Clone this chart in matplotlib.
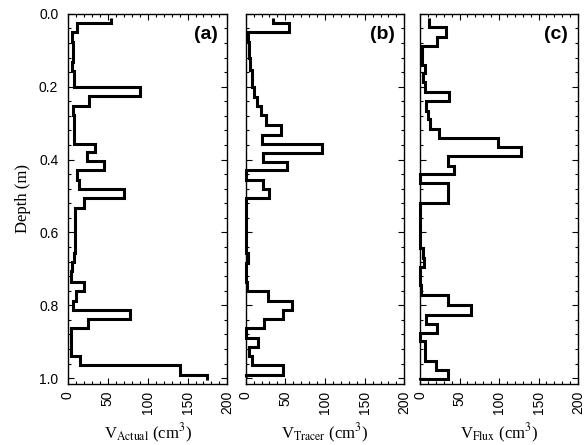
import matplotlib
matplotlib.use("Agg")
import matplotlib.pyplot as plt
from matplotlib.ticker import MultipleLocator

plt.rcParams['font.family'] = 'Liberation Sans'
plt.rcParams['mathtext.fontset'] = 'stix'

# depth bin edges (m) and volumes (cm3)
edges_a = [0.012, 0.025, 0.051, 0.077, 0.104, 0.131, 0.156, 0.202, 0.226, 0.254,
           0.278, 0.303, 0.328, 0.357, 0.379, 0.405, 0.430, 0.455, 0.482, 0.506,
           0.532, 0.590, 0.657, 0.681, 0.707, 0.735, 0.762, 0.788, 0.813, 0.838,
           0.863, 0.938, 0.965, 0.991, 1.005]
v_actual = [54, 11, 5, 6.5, 6.5, 4.5, 7, 90, 26, 6.5,
            7.5, 7.5, 8, 34, 24, 45, 11, 14, 70, 20,
            8.3, 8.8, 7.5, 5.5, 4, 19.5, 10, 6, 78, 25,
            4, 15, 141, 174]

edges_b = [0.012, 0.025, 0.051, 0.077, 0.121, 0.153, 0.200, 0.227, 0.254, 0.278,
           0.305, 0.332, 0.357, 0.381, 0.406, 0.430, 0.456, 0.481, 0.505, 0.657,
           0.685, 0.735, 0.762, 0.788, 0.813, 0.838, 0.863, 0.890, 0.915, 0.938,
           0.964, 0.991, 0.998]
v_tracer = [34, 55, 3.3, 4.2, 5.4, 7.6, 11, 14, 19, 26,
            45, 20.5, 96, 21.5, 52, 0, 22, 30, 0, 3.3,
            0.3, 1.3, 28.6, 59, 47.6, 23.5, 0, 15, 4.2, 7.6,
            47.6, 0]

edges_c = [0.012, 0.037, 0.064, 0.088, 0.140, 0.162, 0.187, 0.2145, 0.240, 0.2675,
           0.290, 0.315, 0.341, 0.366, 0.391, 0.418, 0.441, 0.464, 0.520, 0.643,
           0.671, 0.694, 0.744, 0.772, 0.799, 0.827, 0.852, 0.877, 0.899, 0.952,
           0.977, 1.003, 1.004]
v_flux = [10.9, 32.5, 22.1, 2.5, 6.7, 3.8, 5.9, 37, 7.5, 10,
          13, 24.6, 98.4, 127.5, 36, 43, 0, 35, 0.3, 3.8,
          5.5, 0.4, 1.5, 36, 65, 7.5, 22, 0, 6.7, 20.5,
          35, 0]

panels = [
    (edges_a, v_actual, '(a)', r'V$_{\mathrm{Actual}}$ (cm$^{3}$)', 0.1164, 0.273),
    (edges_b, v_tracer, '(b)', r'V$_{\mathrm{Tracer}}$ (cm$^{3}$)', 0.4207, 0.2716),
    (edges_c, v_flux, '(c)', r'V$_{\mathrm{Flux}}$ (cm$^{3}$)', 0.7192, 0.2706),
]

fig = plt.figure(figsize=(5.84, 4.45), dpi=100)

for i, (edges, vals, tag, xlab, left, width) in enumerate(panels):
    ax = fig.add_axes([left, 0.137, width, 0.832])
    ax.stairs(vals, edges, orientation='horizontal', baseline=None,
              color='black', lw=2.2, clip_on=False)
    ax.set_xlim(0, 200)
    ax.set_ylim(1.016, 0)
    ax.xaxis.set_major_locator(MultipleLocator(50))
    ax.xaxis.set_minor_locator(MultipleLocator(10))
    ax.yaxis.set_major_locator(MultipleLocator(0.2))
    ax.yaxis.set_minor_locator(MultipleLocator(0.04))
    ax.tick_params(which='both', direction='in', top=True, right=True, width=0.8)
    ax.tick_params(which='major', length=4)
    ax.tick_params(which='minor', length=2.2)
    ax.tick_params(axis='x', labelrotation=90, labelsize=10, pad=5)
    ax.tick_params(axis='y', labelsize=10, pad=7)
    for s in ax.spines.values():
        s.set_linewidth(1.0)
    ax.yaxis.set_major_formatter(plt.FuncFormatter(lambda v, p: f"{v:.1f}"))
    if i > 0:
        ax.set_yticklabels([])
    else:
        ax.set_ylabel('Depth (m)', fontfamily='Liberation Serif', fontsize=12, labelpad=6)
    ax.set_xlabel(xlab, fontfamily='Liberation Serif', fontsize=12, labelpad=5)
    ax.text(0.9375, 0.967, tag, transform=ax.transAxes, ha='right', va='top',
            fontsize=14, fontweight='bold')

fig.savefig('out.png', dpi=100)
